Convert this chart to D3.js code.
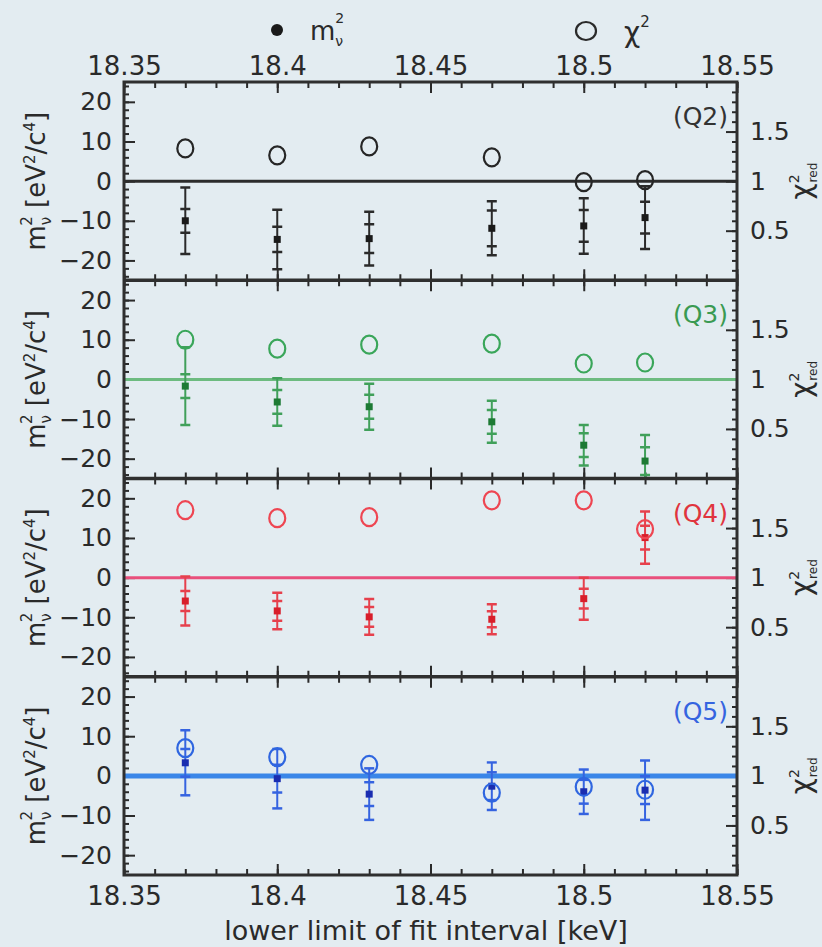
<!DOCTYPE html>
<html lang="en">
<head>
<meta charset="UTF-8">
<title>Fit interval scan</title>
<style>
    body { margin: 0; background: #e3ecf1; }
    svg { display: block; }
    text { font-family: "DejaVu Sans", sans-serif; fill: #2a2a2a; }
</style>
</head>
<body>
<svg id="chart"></svg>

<script src="https://d3js.org/d3.v7.min.js"></script>
<script>
    // Data
    var energies = [18.37, 18.40, 18.43, 18.47, 18.50, 18.52];
    var panelNames = ["(Q2)", "(Q3)", "(Q4)", "(Q5)"];

    var q2Mass = [-10.0, -14.7, -14.5, -11.9, -11.3, -9.2];
    var q2Stat = [3.0, 3.2, 3.6, 4.5, 4.0, 4.0];
    var q2Total = [8.4, 7.5, 6.8, 6.8, 7.0, 7.9];
    var q2Chi = [1.33, 1.26, 1.35, 1.24, 0.99, 1.01];

    var q3Mass = [-1.7, -5.7, -6.9, -10.7, -16.6, -20.6];
    var q3Stat = [3.0, 3.0, 3.0, 3.0, 3.0, 3.5];
    var q3Total = [9.8, 6.0, 5.8, 5.3, 5.1, 6.6];
    var q3Chi = [1.40, 1.31, 1.35, 1.36, 1.16, 1.17];

    var q4Mass = [-5.9, -8.4, -9.9, -10.5, -5.3, 10.1];
    var q4Stat = [2.5, 2.5, 2.5, 2.0, 2.5, 3.0];
    var q4Total = [6.2, 4.6, 4.5, 3.8, 5.3, 6.6];
    var q4Chi = [1.68, 1.60, 1.61, 1.78, 1.78, 1.49];

    var q5Mass = [3.3, -0.7, -4.6, -2.6, -4.0, -3.6];
    var q5Stat = [3.5, 3.5, 3.0, 3.5, 3.0, 3.5];
    var q5Total = [8.2, 7.5, 6.5, 6.0, 5.6, 7.5];
    var q5Chi = [1.28, 1.19, 1.11, 0.83, 0.89, 0.86];

    var xTicks = [18.35, 18.4, 18.45, 18.5, 18.55];
    var massTicks = [-20, -10, 0, 10, 20];
    var chiTicks = [0.5, 1, 1.5];

    // Colours per panel
    var circleColors = ["#262626", "#3aa65a", "#ee4652", "#2f66e0"];
    var markColors = ["#1a1a1a", "#1d7a34", "#d81e2a", "#1a2db0"];
    var barColors = ["#2a2a2a", "#40a05a", "#e6404c", "#3563e0"];
    var lineColors = ["#2c2c2c", "#6dbb80", "#e9507c", "#3a86e8"];
    var labelColors = ["#333333", "#3a9a52", "#e0343e", "#3564e0"];

    var panels = [
        { mass: q2Mass, stat: q2Stat, total: q2Total, chi: q2Chi },
        { mass: q3Mass, stat: q3Stat, total: q3Total, chi: q3Chi },
        { mass: q4Mass, stat: q4Stat, total: q4Total, chi: q4Chi },
        { mass: q5Mass, stat: q5Stat, total: q5Total, chi: q5Chi }
    ];

    // Layout
    var W = 822, H = 947;
    var plotLeft = 124, plotRight = 737, plotTop = 82, plotBottom = 875;
    var panelH = (plotBottom - plotTop) / 4;
    var numFmt = d => String(+d.toFixed(2)).replace("-", "\u2212");

    var svg = d3.select("#chart").attr("width", W).attr("height", H);

    var x = d3.scaleLinear().domain([18.35, 18.55]).range([plotLeft, plotRight]);
    var minorX = d3.range(0, 21).map(i => 18.35 + i * 0.01);

    const defs = svg.append("defs");

    panels.forEach((p, i) => {
        const y0 = plotTop + i * panelH;
        const y1 = y0 + panelH;
        const yMass = d3.scaleLinear().domain([-25, 25]).range([y1, y0]);
        const yChi = d3.scaleLinear().domain([0, 2]).range([y1, y0]);
        const g = svg.append("g");

        defs.append("clipPath").attr("id", "clip" + i)
            .append("rect").attr("x", plotLeft).attr("y", y0)
            .attr("width", plotRight - plotLeft).attr("height", panelH);

        // left axis, minor then major
        g.append("g").attr("transform", "translate(" + plotLeft + ",0)")
            .call(d3.axisLeft(yMass).tickValues(d3.range(-24, 25, 2)).tickSize(-5).tickFormat(""));
        g.append("g").attr("class", "ylab").attr("transform", "translate(" + plotLeft + ",0)")
            .call(d3.axisLeft(yMass).tickValues(massTicks).tickSize(-11).tickPadding(12).tickFormat(numFmt));

        // right axis
        g.append("g").attr("transform", "translate(" + plotRight + ",0)")
            .call(d3.axisRight(yChi).tickValues(d3.range(1, 20).map(k => k / 10)).tickSize(-5).tickFormat(""));
        g.append("g").attr("class", "ylab").attr("transform", "translate(" + plotRight + ",0)")
            .call(d3.axisRight(yChi).tickValues(chiTicks).tickSize(-11).tickPadding(13).tickFormat(numFmt));

        // x ticks on top and bottom edge of the panel
        g.append("g").attr("transform", "translate(0," + y0 + ")")
            .call(d3.axisBottom(x).tickValues(minorX).tickSize(6).tickFormat(""));
        g.append("g").attr("transform", "translate(0," + y0 + ")")
            .call(d3.axisBottom(x).tickValues(xTicks).tickSize(11).tickFormat(""));
        g.append("g").attr("transform", "translate(0," + y1 + ")")
            .call(d3.axisTop(x).tickValues(minorX).tickSize(6).tickFormat(""));
        g.append("g").attr("transform", "translate(0," + y1 + ")")
            .call(d3.axisTop(x).tickValues(xTicks).tickSize(11).tickFormat(""));

        // zero line (m^2 = 0, chi^2 = 1)
        g.append("line")
            .attr("x1", plotLeft).attr("x2", plotRight)
            .attr("y1", yMass(0)).attr("y2", yMass(0))
            .attr("stroke", lineColors[i])
            .attr("stroke-width", i == 3 ? 5 : 3);

        const marks = g.append("g").attr("clip-path", "url(#clip" + i + ")");

        energies.forEach((e, j) => {
            const cx = x(e);
            const v = p.mass[j];
            const pt = marks.append("g");
            pt.append("line")
                .attr("x1", cx).attr("x2", cx)
                .attr("y1", yMass(v + p.total[j])).attr("y2", yMass(v - p.total[j]))
                .attr("stroke", barColors[i]).attr("stroke-width", 2);
            [v + p.total[j], v - p.total[j], v + p.stat[j], v - p.stat[j]].forEach(c => {
                pt.append("line")
                    .attr("x1", cx - 5).attr("x2", cx + 5)
                    .attr("y1", yMass(c)).attr("y2", yMass(c))
                    .attr("stroke", barColors[i]).attr("stroke-width", 2.5);
            });
            pt.append("rect")
                .attr("x", cx - 3.5).attr("y", yMass(v) - 3.5)
                .attr("width", 7).attr("height", 7)
                .attr("fill", markColors[i]);

            marks.append("ellipse")
                .attr("cx", cx).attr("cy", yChi(p.chi[j]))
                .attr("rx", 8).attr("ry", 9)
                .attr("fill", "none")
                .attr("stroke", circleColors[i]).attr("stroke-width", 2.2);
        });

        // panel name
        g.append("text")
            .attr("x", 728).attr("y", y0 + 43)
            .attr("text-anchor", "end")
            .style("font-size", "25px")
            .style("fill", labelColors[i])
            .text(panelNames[i]);

        // left axis title
        const lt = g.append("text")
            .attr("transform", "translate(45," + yMass(0) + ") rotate(-90)")
            .attr("text-anchor", "middle")
            .style("font-size", "26px");
        lt.append("tspan").text("m");
        lt.append("tspan").attr("dy", 6).style("font-size", "15px").text("ν");
        lt.append("tspan").attr("dx", -9).attr("dy", -19).style("font-size", "15px").text("2");
        lt.append("tspan").attr("dy", 13).text(" [eV");
        lt.append("tspan").attr("dy", -10).style("font-size", "15px").text("2");
        lt.append("tspan").attr("dy", 10).text("/c");
        lt.append("tspan").attr("dy", -10).style("font-size", "15px").text("4");
        lt.append("tspan").attr("dy", 10).text("]");

        // right axis title
        const rt = g.append("text")
            .attr("transform", "translate(811," + yMass(0) + ") rotate(-90)")
            .attr("text-anchor", "middle")
            .style("font-size", "28px");
        rt.append("tspan").text("χ");
        rt.append("tspan").attr("dy", -12).style("font-size", "14px").text("2");
        rt.append("tspan").attr("dx", -8).attr("dy", 18).style("font-size", "12px").text("red");
    });

    // frame and panel separators
    svg.selectAll(".domain").remove();
    svg.selectAll(".tick line").attr("stroke", "#2a2a2a").attr("stroke-width", 2);
    svg.selectAll(".ylab text").style("font-size", "25px").style("fill", "#2a2a2a")
        .attr("font-family", null);

    svg.append("rect")
        .attr("x", plotLeft).attr("y", plotTop)
        .attr("width", plotRight - plotLeft).attr("height", plotBottom - plotTop)
        .attr("fill", "none").attr("stroke", "#2f2f2f").attr("stroke-width", 3);
    d3.range(1, 4).forEach(k => {
        svg.append("line")
            .attr("x1", plotLeft).attr("x2", plotRight)
            .attr("y1", plotTop + k * panelH).attr("y2", plotTop + k * panelH)
            .attr("stroke", "#2f2f2f").attr("stroke-width", 3.5);
    });

    // x tick labels, top and bottom
    svg.append("g").attr("class", "xlab").attr("transform", "translate(0," + plotTop + ")")
        .call(d3.axisTop(x).tickValues(xTicks).tickSize(0).tickPadding(7).tickFormat(numFmt));
    svg.append("g").attr("class", "xlab").attr("transform", "translate(0," + plotBottom + ")")
        .call(d3.axisBottom(x).tickValues(xTicks).tickSize(0).tickPadding(12).tickFormat(numFmt));
    svg.selectAll(".xlab .domain").remove();
    svg.selectAll(".xlab text").style("font-size", "26px").style("fill", "#2a2a2a")
        .attr("font-family", null);

    svg.append("text")
        .attr("x", 426).attr("y", 940)
        .attr("text-anchor", "middle")
        .style("font-size", "27px")
        .text("lower limit of fit interval  [keV]");

    // legend on top
    svg.append("circle").attr("cx", 277).attr("cy", 30).attr("r", 6).attr("fill", "#1a1a1a");
    const lm = svg.append("text").attr("x", 310).attr("y", 40).style("font-size", "26px");
    lm.append("tspan").text("m");
    lm.append("tspan").attr("dy", 6).style("font-size", "14px").text("ν");
    lm.append("tspan").attr("dx", -8).attr("dy", -23).style("font-size", "14px").text("2");

    svg.append("ellipse").attr("cx", 586).attr("cy", 31).attr("rx", 10).attr("ry", 9)
        .attr("fill", "none").attr("stroke", "#2a2a2a").attr("stroke-width", 2.2);
    const lc = svg.append("text").attr("x", 624).attr("y", 42).style("font-size", "28px");
    lc.append("tspan").text("χ");
    lc.append("tspan").attr("dy", -15).style("font-size", "15px").text("2");
</script>
</body>
</html>
